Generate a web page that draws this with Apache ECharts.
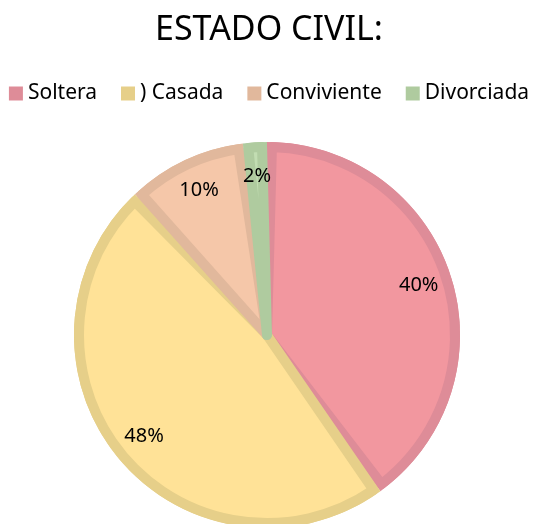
<!DOCTYPE html>
<html>
<head>
<meta charset="utf-8">
<script src="https://cdn.jsdelivr.net/npm/echarts@6/dist/echarts.min.js"></script>
<style>
	html, body { margin: 0; padding: 0; background: #fff; }
	#chart { width: 538px; height: 524px; }
</style>
</head>
<body>
<div id="chart"></div>
<script>
// datos del gráfico
var categorias = ['Soltera', ') Casada', 'Conviviente', 'Divorciada'];
var porcentajes = [40, 48, 10, 2];
var coloresRelleno = ['#F2979F', '#FFE297', '#F5C7A9', '#C2DDB2'];
var coloresBorde = ['#DE8C98', '#E6CF89', '#E1B89C', '#AFCB9F'];

var chart = echarts.init(document.getElementById('chart'));

function armarDatos(colores, bordes) {
	let datos = [];
	for (let i = 0; i < categorias.length; i++) {
		let estilo = { color: colores[i] };
		if (bordes) {
			estilo.borderColor = bordes[i];
			estilo.borderWidth = 10;
		}
		datos.push({
			name: categorias[i],
			value: porcentajes[i],
			itemStyle: estilo
		});
	}
	return datos;
}

var centro = [267, 335];

var option = {
	animation: false,
	title: {
		text: 'ESTADO CIVIL:',
		left: 'center',
		top: 8,
		textStyle: {
			fontFamily: 'Noto Sans',
			fontWeight: 'normal',
			fontSize: 34,
			color: '#000'
		}
	},
	legend: {
		top: 78,
		left: 'center',
		icon: 'rect',
		itemWidth: 14,
		itemHeight: 14,
		itemGap: 24,
		textStyle: {
			fontFamily: 'Noto Sans',
			fontSize: 21,
			color: '#000'
		}
	},
	series: [
		{
			// fondo oscuro (borde)
			type: 'pie',
			center: centro,
			radius: [0, 193],
			silent: true,
			label: { show: false },
			labelLine: { show: false },
			data: armarDatos(coloresBorde)
		},
		{
			// relleno claro
			type: 'pie',
			center: centro,
			radius: [0, 188],
			padAngle: 3,
			silent: true,
			label: { show: false },
			labelLine: { show: false },
			data: armarDatos(coloresRelleno, coloresBorde)
		},
		{
			// etiquetas
			type: 'pie',
			center: centro,
			radius: [120, 193],
			silent: true,
			itemStyle: { color: 'rgba(0,0,0,0)' },
			label: {
				show: true,
				position: 'inside',
				formatter: '{c}%',
				fontFamily: 'Noto Sans',
				fontSize: 20,
				color: '#000'
			},
			labelLine: { show: false },
			data: categorias.map(function (c, i) { return { name: c, value: porcentajes[i] }; })
		}
	]
};

chart.setOption(option);
</script>
</body>
</html>
